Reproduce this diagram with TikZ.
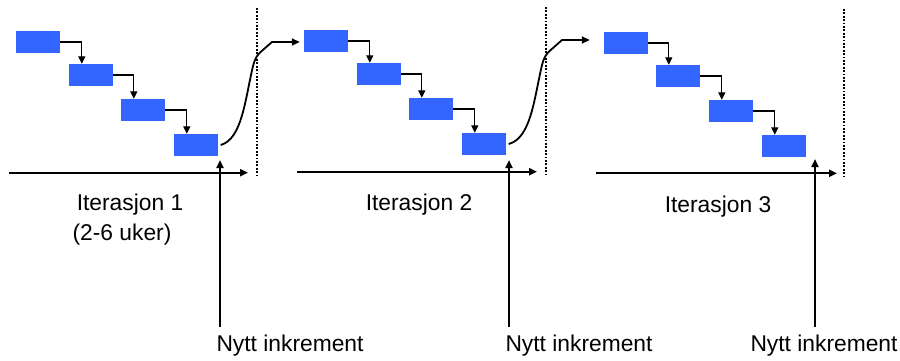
\documentclass[tikz,border=0pt]{standalone}
\usepackage{fontspec}
\setmainfont{Liberation Sans}
\usetikzlibrary{arrows.meta}
\definecolor{taskblue}{RGB}{51,102,255}
\tikzset{
  task/.style={fill=taskblue, draw=none, minimum width=44pt, minimum height=22pt, inner sep=0pt},
  flow/.style={line width=1.3pt, -{Triangle[length=7.5pt,width=7pt]}},
  timeline/.style={line width=2pt, -{Triangle[length=8pt,width=7pt]}},
  handover/.style={line width=1.8pt, -{Triangle[length=8pt,width=7pt]}},
  border/.style={line width=2pt, dash pattern=on 1.8pt off 1.6pt},
  lbl/.style={font=\fontsize{22.8pt}{26pt}\selectfont, inner sep=0pt}
}
\begin{document}
\begin{tikzpicture}[x=1pt,y=-1pt]
\useasboundingbox (0,0) rectangle (900,360);

% iteration 1
\node[task] (a1) at (38,42) {};
\node[task] (a2) at (91,75) {};
\node[task] (a3) at (143,110) {};
\node[task] (a4) at (196,145) {};
% iteration 2
\node[task] (b1) at (326,41) {};
\node[task] (b2) at (379,74) {};
\node[task] (b3) at (431,109) {};
\node[task] (b4) at (484,144) {};
% iteration 3
\node[task] (c1) at (626,43) {};
\node[task] (c2) at (678,76) {};
\node[task] (c3) at (731,111) {};
\node[task] (c4) at (784,146) {};

% steps inside each iteration
\foreach \g in {a,b,c}{
  \draw[flow] (\g1.east) -| ([xshift=13pt]\g2.north west);
  \draw[flow] (\g2.east) -| ([xshift=13pt]\g3.north west);
  \draw[flow] (\g3.east) -| ([xshift=13pt]\g4.north west);
}

% time axes
\coordinate (ax1s) at (9,172.7);   \coordinate (ax1e) at (248,172.7);
\coordinate (ax2s) at (297,171.7); \coordinate (ax2e) at (537,171.7);
\coordinate (ax3s) at (596,173.3); \coordinate (ax3e) at (837,173.3);
\draw[timeline] (ax1s) -- (ax1e);
\draw[timeline] (ax2s) -- (ax2e);
\draw[timeline] (ax3s) -- (ax3e);

% iteration borders
\coordinate (d1t) at (257,8);   \coordinate (d1b) at (257,175);
\coordinate (d2t) at (545.7,7); \coordinate (d2b) at (545.7,174);
\coordinate (d3t) at (844.3,9); \coordinate (d3b) at (844.3,176);
\draw[border] (d1t) -- (d1b);
\draw[border] (d2t) -- (d2b);
\draw[border] (d3t) -- (d3b);

% handover to the next iteration
\draw[handover] ([xshift=2.5pt]a4.east) .. controls (242,139) and (245,100) .. (253,66)
  .. controls (256,54) and (261,52) .. (264,49) -- (272,42) -- ([xshift=-4pt]b1.west |- 0,42);
\draw[handover] ([xshift=2.5pt]b4.east) .. controls (531,138) and (534,99) .. (542,65)
  .. controls (545,53) and (550,51) .. (553,48) -- (562,40) -- ([xshift=-14pt]c1.west |- 0,40);

% iteration labels
\node[lbl] (it1) at (130,205) {Iterasjon 1};
\node[lbl] (dur) at (122,235) {(2-6 uker)};
\node[lbl] (it2) at (419,205) {Iterasjon 2};
\node[lbl] (it3) at (718,207) {Iterasjon 3};

% new increments
\node[lbl] (n1) at (290,346) {Nytt inkrement};
\node[lbl] (n2) at (579,346) {Nytt inkrement};
\node[lbl] (n3) at (824,346) {Nytt inkrement};
\coordinate (u1b) at (220,327); \coordinate (u1t) at (220,160);
\coordinate (u2b) at (509,327); \coordinate (u2t) at (509,160);
\coordinate (u3b) at (815,327); \coordinate (u3t) at (815,159);
\draw[timeline] (u1b) -- (u1t);
\draw[timeline] (u2b) -- (u2t);
\draw[timeline] (u3b) -- (u3t);
\end{tikzpicture}
\end{document}
